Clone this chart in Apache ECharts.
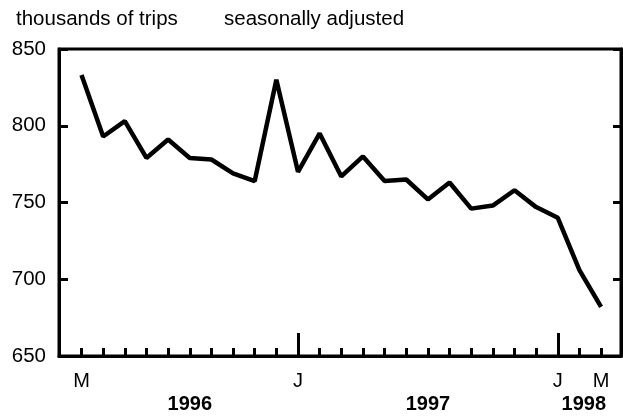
<!DOCTYPE html>
<html>
<head>
<meta charset="utf-8">
<script src="https://cdn.jsdelivr.net/npm/echarts@6/dist/echarts.min.js"></script>
<style>
  html, body { margin: 0; padding: 0; background: #fff; }
  #chart { width: 623px; height: 416px; }
</style>
</head>
<body>
<div id="chart"></div>
<script>
// monthly, Mar 1996 .. Mar 1998
var months = ['M','A','M','J','J','A','S','O','N','D',
              'J','F','M','A','M','J','J','A','S','O','N','D',
              'J','F','M'];
var trips = [833, 793, 803, 779, 791, 779, 778, 769, 764, 830,
             770, 795, 767, 780, 764, 765, 752, 763, 746, 748,
             758, 747, 740, 706, 682];
var labelIdx = [0, 10, 22, 24];      // months that get a letter
var janIdx = [10, 22];               // long ticks
var years = ['1996', '1997', '1998'];
var yearPos = [5, 16, 23.2];
var yTicks = [650, 700, 750, 800, 850];

var font = 'Liberation Sans, Arial, sans-serif';
var chart = echarts.init(document.getElementById('chart'));

var tickIdx = [];
for (var i = 0; i < trips.length; i++) tickIdx.push(i);

var option = {
    animation: false,
    title: [
        { text: 'thousands of trips', left: 11, top: 4,
          textStyle: { fontFamily: font, fontSize: 20.5, fontWeight: 'normal', color: '#000' } },
        { text: 'seasonally adjusted', left: 219, top: 4,
          textStyle: { fontFamily: font, fontSize: 20.5, fontWeight: 'normal', color: '#000' } }
    ],
    grid: {
        left: 59, right: 2, top: 49, bottom: 60,
        show: true, borderColor: '#000', borderWidth: 3
    },
    xAxis: [
        {
            type: 'value',
            min: -1.04, max: 24.92,
            axisLine: { onZero: false, lineStyle: { color: '#000', width: 3 } },
            axisTick: { inside: true, length: 8, customValues: tickIdx,
                        lineStyle: { color: '#000', width: 3 } },
            axisLabel: {
                customValues: labelIdx, margin: 15,
                fontFamily: font, fontSize: 20, color: '#000',
                formatter: function (v) { return months[Math.round(v)]; }
            },
            splitLine: { show: false }
        },
        {
            type: 'value',
            position: 'bottom',
            min: -1.04, max: 24.92,
            axisLine: { show: false, onZero: false },
            axisTick: { show: true, inside: true, length: 23, customValues: janIdx,
                        lineStyle: { color: '#000', width: 3 } },
            axisLabel: {
                customValues: yearPos, margin: 38,
                fontFamily: font, fontSize: 20, fontWeight: 'bold', color: '#000',
                formatter: function (v) { return years[yearPos.indexOf(v)]; }
            },
            splitLine: { show: false }
        }
    ],
    yAxis: [
        {
            type: 'value', min: 650, max: 850, interval: 50,
            axisLine: { show: true, onZero: false, lineStyle: { color: '#000', width: 3 } },
            axisTick: { show: true, inside: true, length: 9, lineStyle: { color: '#000', width: 3 } },
            axisLabel: { margin: 13, fontFamily: font, fontSize: 20.5, color: '#000',
                         formatter: function (v) { return yTicks.indexOf(v) >= 0 ? String(v) : ''; } },
            splitLine: { show: false }
        },
        {
            type: 'value', min: 650, max: 850, interval: 50, position: 'right',
            axisLine: { show: true, onZero: false, lineStyle: { color: '#000', width: 3 } },
            axisTick: { show: true, inside: true, length: 8, lineStyle: { color: '#000', width: 3 } },
            axisLabel: { show: false },
            splitLine: { show: false }
        }
    ],
    series: [
        {
            type: 'line',
            data: trips.map(function (v, i) { return [i, v]; }),
            symbol: 'none',
            lineStyle: { color: '#000', width: 4.5 }
        }
    ]
};
chart.setOption(option);
</script>
</body>
</html>
